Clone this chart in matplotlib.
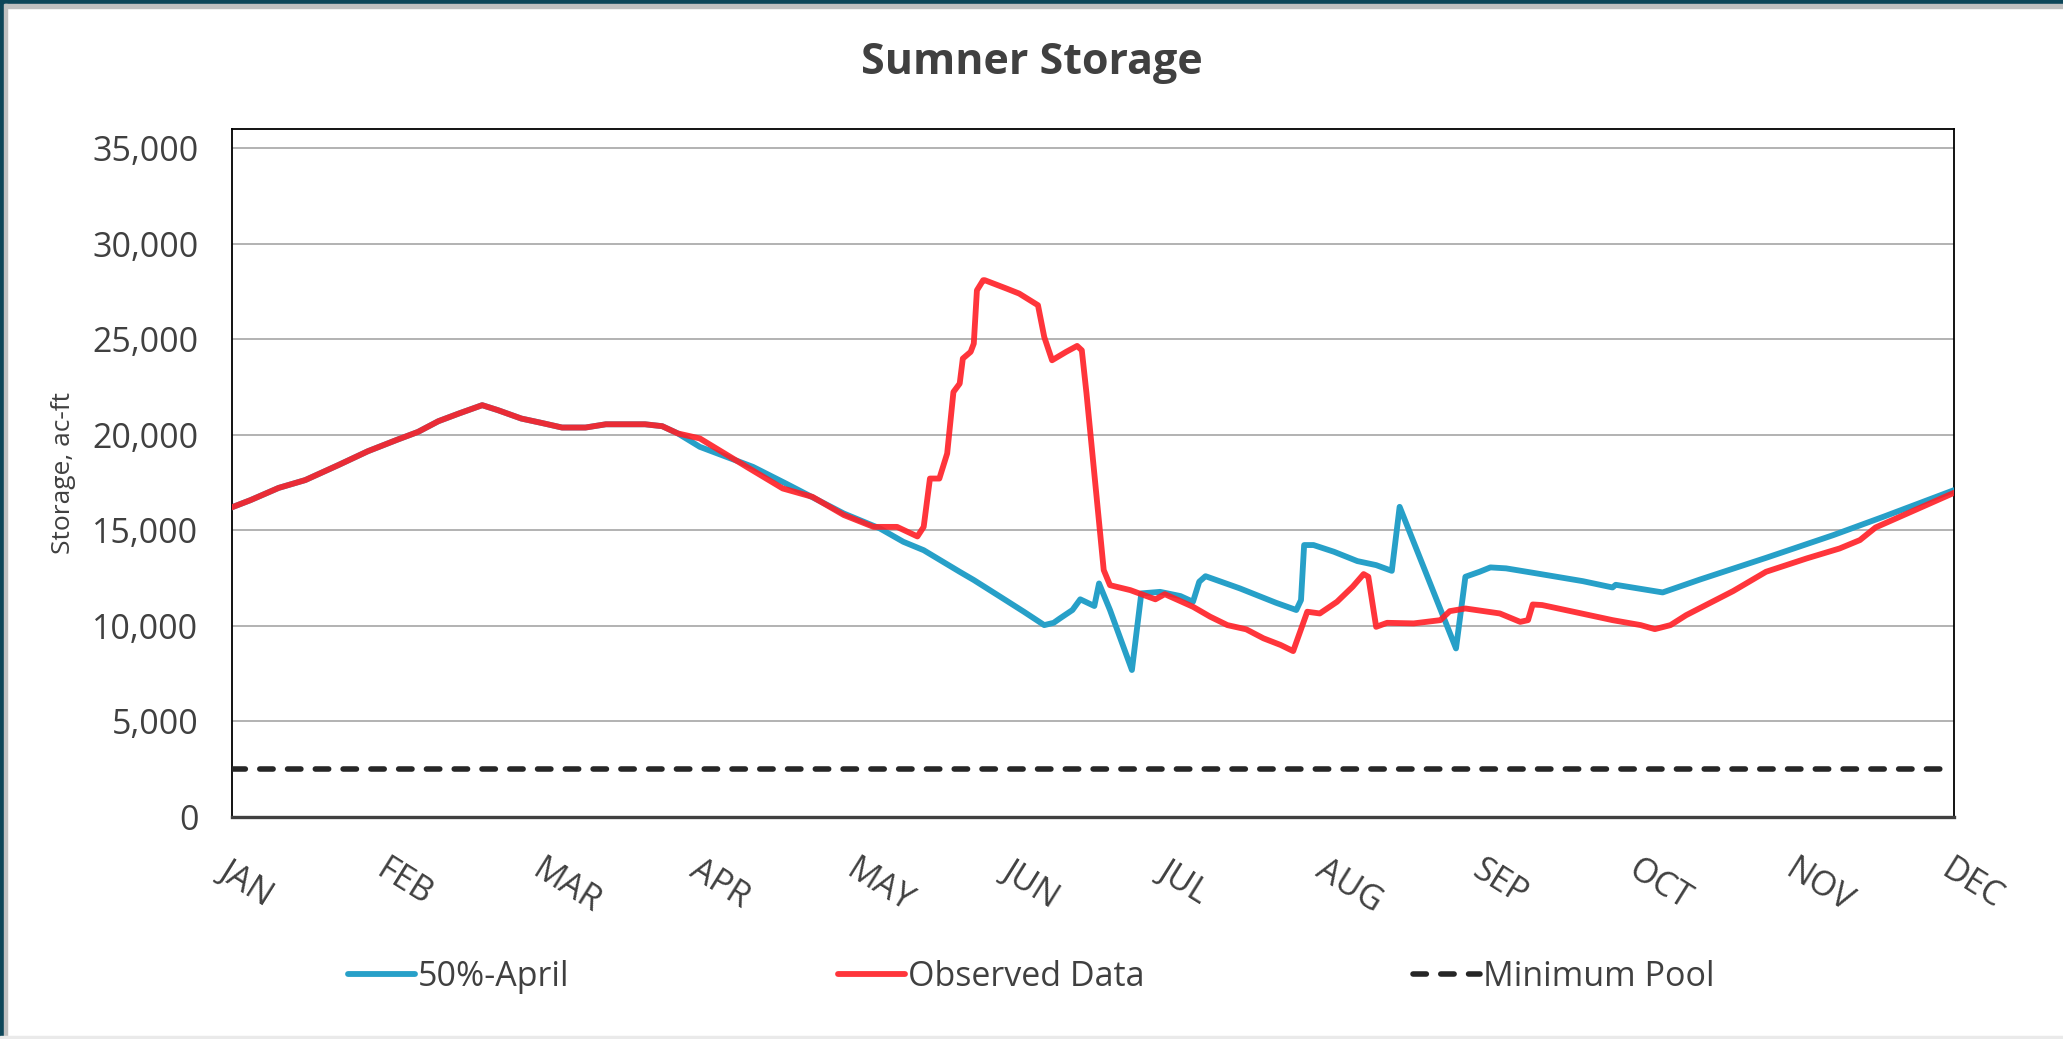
import matplotlib
matplotlib.use("Agg")
import matplotlib.pyplot as plt
from matplotlib.patches import Rectangle
from matplotlib.ticker import FuncFormatter

plt.rcParams['font.family'] = ['Open Sans', 'DejaVu Sans']

# x positions in months after Jan 1 (0 = JAN, 11 = DEC), values in ac-ft
months = ['JAN', 'FEB', 'MAR', 'APR', 'MAY', 'JUN', 'JUL', 'AUG', 'SEP', 'OCT', 'NOV', 'DEC']

obs_m = [0.00, 0.12, 0.30, 0.47, 0.68, 0.87, 1.06, 1.19, 1.32, 1.45, 1.60, 1.70, 1.85, 1.98,
         2.11, 2.26, 2.39, 2.64, 2.75, 2.85, 2.99, 3.29, 3.52, 3.71, 3.91, 4.10, 4.25, 4.38,
         4.42, 4.46, 4.52, 4.57, 4.61, 4.65, 4.67, 4.72, 4.74, 4.76, 4.80, 4.81, 4.95, 5.03,
         5.15, 5.19, 5.24, 5.33, 5.40, 5.43, 5.46, 5.57, 5.61, 5.74, 5.90, 5.96, 6.14, 6.25,
         6.36, 6.48, 6.59, 6.70, 6.78, 6.87, 6.95, 7.06, 7.16, 7.23, 7.26, 7.31, 7.38, 7.55,
         7.72, 7.78, 7.88, 8.10, 8.23, 8.28, 8.31, 8.37, 8.57, 8.82, 9.00, 9.09, 9.19, 9.29,
         9.59, 9.80, 10.06, 10.27, 10.40, 10.50, 10.76, 11.00]
obs_v = [16200, 16580, 17220, 17630, 18410, 19140, 19750, 20150, 20710, 21110, 21550, 21290,
         20850, 20620, 20380, 20380, 20550, 20550, 20450, 20070, 19810, 18320, 17190, 16750,
         15800, 15180, 15180, 14680, 15180, 17710, 17710, 19020, 22240, 22680, 23990, 24340,
         24770, 27560, 28090, 28090, 27650, 27390, 26780, 25120, 23900, 24340, 24650, 24420,
         22160, 12920, 12130, 11870, 11390, 11660, 11000, 10480, 10040, 9820, 9350, 9000,
         8680, 10740, 10650, 11260, 12050, 12710, 12570, 9950, 10160, 10130, 10300, 10770,
         10910, 10650, 10210, 10300, 11120, 11090, 10740, 10300, 10040, 9830, 10040, 10560,
         11820, 12830, 13530, 14050, 14490, 15150, 16090, 16960]

apr50_m = [0.00, 0.12, 0.30, 0.47, 0.68, 0.87, 1.06, 1.19, 1.32, 1.45, 1.60, 1.70, 1.85, 1.98,
           2.11, 2.26, 2.39, 2.64, 2.75, 2.85, 2.99, 3.33, 3.54, 3.91, 4.14, 4.29, 4.42, 4.65,
           4.74, 4.91, 5.06, 5.19, 5.25, 5.29, 5.37, 5.42, 5.51, 5.54, 5.61, 5.75, 5.81, 5.93,
           6.06, 6.14, 6.18, 6.22, 6.44, 6.67, 6.80, 6.83, 6.85, 6.91, 7.04, 7.19, 7.31, 7.41,
           7.46, 7.82, 7.88, 7.97, 8.04, 8.14, 8.31, 8.63, 8.82, 8.84, 9.14, 9.38, 9.80, 10.23,
           10.55, 11.00]
apr50_v = [16200, 16580, 17220, 17630, 18410, 19140, 19750, 20150, 20710, 21110, 21550, 21290,
           20850, 20620, 20380, 20380, 20550, 20550, 20450, 20070, 19370, 18320, 17450, 15880,
           15100, 14400, 13960, 12830, 12400, 11520, 10740, 10040, 10160, 10390, 10830, 11390,
           11040, 12220, 10830, 7690, 11700, 11780, 11560, 11260, 12310, 12600, 11960, 11210,
           10830, 11350, 14230, 14230, 13880, 13390, 13180, 12880, 16230, 8820, 12570, 12830,
           13060, 13010, 12780, 12340, 12010, 12150, 11750, 12430, 13560, 14750, 15710, 17100]

min_pool = 2500

txt = '#404040'

fig = plt.figure(figsize=(20.63, 10.39), dpi=100)

# frame of the screenshot
fig.patches.append(Rectangle((0, 1 - 4 / 1039), 1, 4 / 1039, transform=fig.transFigure, color='#0D4659', zorder=0))
fig.patches.append(Rectangle((0, 1 - 8 / 1039), 1, 4 / 1039, transform=fig.transFigure, color='#C0C0C0', zorder=0))
fig.patches.append(Rectangle((0, 0), 4 / 2063, 1, transform=fig.transFigure, color='#0D4659', zorder=0))
fig.patches.append(Rectangle((4 / 2063, 0), 3 / 2063, 1 - 4 / 1039, transform=fig.transFigure, color='#C0C0C0', zorder=0))
fig.patches.append(Rectangle((0, 0), 1, 3 / 1039, transform=fig.transFigure, color='#EAEAEA', zorder=0))

ax = fig.add_axes([0.1123, 0.2137, 0.8348, 0.6621])

ax.plot(apr50_m, apr50_v, color='#27A0C8', lw=4.2, label='50%-April',
        solid_capstyle='round', solid_joinstyle='round', zorder=3)
ax.plot(obs_m, obs_v, color='#FF1F26', lw=4.2, alpha=0.9, label='Observed Data',
        solid_capstyle='round', solid_joinstyle='round', zorder=4)
ax.plot([0, 11], [min_pool, min_pool], color='#262626', lw=4.0, dashes=(2.4, 2.6),
        dash_capstyle='round', label='Minimum Pool', zorder=5)

ax.set_xlim(0, 11)
ax.set_ylim(0, 36000)
ax.set_yticks(range(0, 35001, 5000))
ax.yaxis.set_major_formatter(FuncFormatter(lambda v, p: f'{int(v):,}'))
ax.set_xticks(range(12))
ax.set_xticklabels(months, rotation=-32, ha='left', va='top', rotation_mode='anchor')

ax.grid(axis='y', color='#A6A6A6', lw=1.2)
ax.set_axisbelow(True)
ax.tick_params(axis='both', length=0, labelsize=24.5, labelcolor=txt)
ax.tick_params(axis='y', pad=24)
ax.tick_params(axis='x', pad=26)

for s in ['top', 'left', 'right']:
    ax.spines[s].set_color('black')
    ax.spines[s].set_linewidth(1.3)
ax.spines['bottom'].set_color('#404040')
ax.spines['bottom'].set_linewidth(2.4)

ax.set_ylabel('Storage, ac-ft', fontsize=19, color=txt)
ax.yaxis.set_label_coords(-0.0905, 0.5)

fig.text(0.5, 1 - 62 / 1039, 'Sumner Storage', ha='center', va='center',
         fontsize=31, fontweight='bold', color=txt)

fig.legend(loc='center', bbox_to_anchor=(0.5, 1 - 977 / 1039), ncol=3, frameon=False,
           fontsize=24.5, labelcolor=txt, handlelength=1.95, handletextpad=0.1, columnspacing=7.9)

fig.savefig('out.png', dpi=100, facecolor='white')
